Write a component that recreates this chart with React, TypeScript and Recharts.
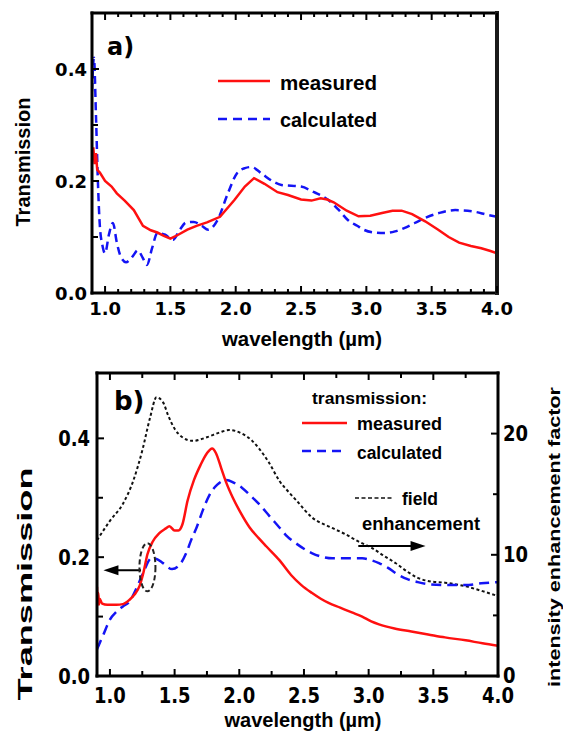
import React from 'react';
import { LineChart, Line, XAxis, YAxis, ReferenceLine, ReferenceDot } from 'recharts';

// ---- panel a) ----
const aMeasWl = [0.9, 0.91, 0.92, 0.93, 0.94, 0.96, 1.0, 1.05, 1.09, 1.15, 1.22, 1.29, 1.35, 1.4, 1.45, 1.5, 1.56, 1.63, 1.7, 1.78, 1.88, 1.99, 2.07, 2.14, 2.22, 2.32, 2.4, 2.5, 2.58, 2.65, 2.7, 2.75, 2.85, 2.94, 3.03, 3.12, 3.2, 3.27, 3.35, 3.45, 3.55, 3.63, 3.71, 3.8, 3.88, 3.95, 4.0];
const aMeasT = [0.245, 0.26, 0.23, 0.25, 0.22, 0.215, 0.2, 0.19, 0.178, 0.165, 0.148, 0.12, 0.112, 0.108, 0.102, 0.097, 0.104, 0.113, 0.12, 0.126, 0.136, 0.166, 0.19, 0.205, 0.195, 0.18, 0.175, 0.167, 0.165, 0.169, 0.167, 0.162, 0.147, 0.137, 0.138, 0.143, 0.147, 0.147, 0.141, 0.128, 0.113, 0.1, 0.09, 0.084, 0.08, 0.075, 0.071];

const aCalcWl = [0.9, 0.915, 0.93, 0.945, 0.96, 0.98, 1.0, 1.03, 1.06, 1.09, 1.12, 1.16, 1.21, 1.25, 1.29, 1.32, 1.36, 1.4, 1.46, 1.52, 1.57, 1.62, 1.68, 1.74, 1.79, 1.86, 1.94, 2.01, 2.07, 2.12, 2.2, 2.28, 2.35, 2.5, 2.6, 2.71, 2.79, 2.86, 2.93, 2.98, 3.06, 3.14, 3.22, 3.29, 3.37, 3.45, 3.56, 3.68, 3.83, 3.92, 4.0];
const aCalcT = [0.36, 0.42, 0.32, 0.2, 0.12, 0.085, 0.071, 0.105, 0.125, 0.09, 0.065, 0.055, 0.065, 0.076, 0.062, 0.05, 0.08, 0.107, 0.104, 0.095, 0.112, 0.126, 0.127, 0.12, 0.113, 0.13, 0.178, 0.214, 0.223, 0.225, 0.213, 0.2, 0.193, 0.19, 0.18, 0.166, 0.148, 0.13, 0.12, 0.113, 0.108, 0.107, 0.11, 0.116, 0.125, 0.134, 0.143, 0.148, 0.145, 0.14, 0.136];

// ---- panel b) ----
const bMeasWl = [0.9, 0.905, 0.91, 0.915, 0.92, 0.94, 0.98, 1.05, 1.1, 1.15, 1.19, 1.23, 1.26, 1.29, 1.33, 1.38, 1.43, 1.46, 1.5, 1.53, 1.56, 1.6, 1.65, 1.7, 1.75, 1.79, 1.82, 1.86, 1.9, 1.95, 2.01, 2.08, 2.15, 2.21, 2.31, 2.4, 2.48, 2.56, 2.63, 2.69, 2.78, 2.87, 2.95, 3.02, 3.08, 3.2, 3.33, 3.46, 3.59, 3.75, 3.88, 4.0];
const bMeasT = [0.15, 0.125, 0.14, 0.12, 0.13, 0.122, 0.12, 0.12, 0.121, 0.128, 0.137, 0.152, 0.175, 0.205, 0.226, 0.24, 0.248, 0.252, 0.245, 0.245, 0.255, 0.295, 0.33, 0.355, 0.375, 0.383, 0.375, 0.35, 0.325, 0.3, 0.275, 0.25, 0.232, 0.218, 0.195, 0.17, 0.153, 0.14, 0.13, 0.123, 0.115, 0.107, 0.1, 0.092, 0.087, 0.08, 0.075, 0.07, 0.065, 0.06, 0.055, 0.051];

const bCalcWl = [0.9, 0.95, 1.0, 1.05, 1.1, 1.15, 1.21, 1.26, 1.32, 1.36, 1.41, 1.48, 1.53, 1.59, 1.63, 1.67, 1.72, 1.77, 1.83, 1.9, 1.96, 2.02, 2.08, 2.15, 2.23, 2.31, 2.37, 2.44, 2.56, 2.65, 2.72, 2.85, 2.95, 3.02, 3.08, 3.15, 3.21, 3.3, 3.38, 3.48, 3.59, 3.75, 3.87, 4.0];
const bCalcT = [0.045, 0.07, 0.095, 0.108, 0.117, 0.125, 0.15, 0.175, 0.198, 0.197, 0.19, 0.18, 0.185, 0.207, 0.23, 0.25, 0.28, 0.305, 0.322, 0.33, 0.325, 0.317, 0.305, 0.29, 0.27, 0.25, 0.235, 0.223, 0.207, 0.2, 0.198, 0.198, 0.198, 0.195, 0.19, 0.182, 0.173, 0.163, 0.158, 0.154, 0.153, 0.153, 0.156, 0.158];

const bFieldWl = [0.9, 1.0, 1.1, 1.18, 1.25, 1.31, 1.36, 1.41, 1.45, 1.5, 1.56, 1.64, 1.75, 1.85, 1.92, 2.02, 2.1, 2.15, 2.23, 2.31, 2.38, 2.44, 2.56, 2.7, 2.82, 2.92, 3.02, 3.12, 3.21, 3.3, 3.38, 3.48, 3.59, 3.75, 3.88, 4.0];
const bFieldF = [11.2, 12.8, 14.2, 16.1, 18.6, 21.3, 23.0, 22.6, 21.5, 20.4, 19.7, 19.4, 19.7, 20.1, 20.3, 20.0, 19.4, 18.8, 17.6, 16.1, 15.2, 14.5, 13.1, 12.3, 11.7, 11.1, 10.6, 9.9, 9.3, 8.6, 8.1, 7.8, 7.7, 7.4, 7.0, 6.6];

// ticks
const aXTicks = [1.0, 1.1, 1.2, 1.3, 1.4, 1.5, 1.6, 1.7, 1.8, 1.9, 2.0, 2.1, 2.2, 2.3, 2.4, 2.5, 2.6, 2.7, 2.8, 2.9, 3.0, 3.1, 3.2, 3.3, 3.4, 3.5, 3.6, 3.7, 3.8, 3.9, 4.0];
const aYTicks = [0, 0.1, 0.2, 0.3, 0.4];
const aRightTicks = [0, 2, 4, 6, 8, 10, 12, 14, 16, 18, 20, 22, 24];
const bXTicks = [1.0, 1.25, 1.5, 1.75, 2.0, 2.25, 2.5, 2.75, 3.0, 3.25, 3.5, 3.75, 4.0];
const bYTicks = [0, 0.1, 0.2, 0.3, 0.4];
const bRightTicks = [0, 5, 10, 15, 20];

const zip = (xs: number[], ys: number[]) => xs.map((x, i) => ({ wl: x, v: ys[i] }));

const RED = '#ff1010';
const BLUE = '#1414f5';
const TICK_FONT = 'DejaVu Sans, sans-serif';
const TXT_FONT = 'Liberation Sans, Arial, sans-serif';

type Side = 'bottom' | 'top' | 'left' | 'right';
interface TickStyle {
  side: Side;
  every: number;
  majorLen: number;
  minorLen: number;
  labels?: boolean;
  gap?: number;
  dy?: number;
  size?: number;
  stretch?: number;
  digits?: number;
}

const isMultiple = (v: number, step: number) => Math.abs(v / step - Math.round(v / step)) < 1e-6;

// draws inward tick marks (long on major values) and labels on the major ones
const makeTick = (s: TickStyle) => (props: any) => {
  const { x, y, payload } = props;
  const v = Number(payload.value);
  const major = isMultiple(v, s.every);
  const len = major ? s.majorLen : s.minorLen;
  const dx = s.side === 'left' ? len : s.side === 'right' ? -len : 0;
  const dyl = s.side === 'bottom' ? -len : s.side === 'top' ? len : 0;
  let label = null;
  if (s.labels && major) {
    let tx = x;
    let ty = y;
    let anchor = 'middle';
    if (s.side === 'bottom') ty = y + (s.gap || 0);
    if (s.side === 'left') { tx = x - (s.gap || 0); ty = y + (s.dy || 0); anchor = 'end'; }
    if (s.side === 'right') { tx = x + (s.gap || 0); ty = y + (s.dy || 0); anchor = 'start'; }
    label = (
      <text
        transform={`translate(${tx},${ty}) scale(1,${s.stretch || 1})`}
        textAnchor={anchor}
        fontFamily={TICK_FONT}
        fontWeight="bold"
        fontSize={s.size || 18}
        fill="#000"
      >
        {v.toFixed(s.digits ?? 1)}
      </text>
    );
  }
  return (
    <g>
      <line x1={x} y1={y} x2={x + dx} y2={y + dyl} stroke="#000" strokeWidth={2} />
      {label}
    </g>
  );
};

const axisLine = { stroke: '#000', strokeWidth: 3, strokeLinecap: 'square' as const };

const LeftArrow = (p: any) => (
  <g>
    <line x1={p.x1} y1={p.y1} x2={p.x2 + 10} y2={p.y2} stroke="#000" strokeWidth={2} />
    <polygon points={`${p.x2},${p.y2} ${p.x2 + 15},${p.y2 - 5} ${p.x2 + 15},${p.y2 + 5}`} fill="#000" />
  </g>
);

const RightArrow = (p: any) => (
  <g>
    <line x1={p.x1} y1={p.y1} x2={p.x2 - 10} y2={p.y2} stroke="#000" strokeWidth={2} />
    <polygon points={`${p.x2},${p.y2} ${p.x2 - 15},${p.y2 - 5} ${p.x2 - 15},${p.y2 + 5}`} fill="#000" />
  </g>
);

const Ellipse = (p: any) => (
  <ellipse cx={p.cx} cy={p.cy} rx={8} ry={24} fill="none" stroke="#222" strokeWidth={2} strokeDasharray="5 3" />
);

const PanelA = () => (
  <LineChart width={563} height={340} margin={{ top: 12, right: 0, bottom: 0, left: 0 }}>
    <XAxis
      dataKey="wl" type="number" domain={[0.9, 4]} ticks={aXTicks} interval={0}
      height={47} tickSize={0} tickMargin={0} tickLine={false} axisLine={axisLine} allowDataOverflow
      tick={makeTick({ side: 'bottom', every: 0.5, majorLen: 7, minorLen: 4, labels: true, gap: 22, size: 18 })}
    />
    <XAxis
      xAxisId="top" orientation="top" dataKey="wl" type="number" domain={[0.9, 4]} ticks={aXTicks} interval={0}
      height={1} tickSize={0} tickMargin={0} tickLine={false} axisLine={axisLine} allowDataOverflow
      tick={makeTick({ side: 'top', every: 0.5, majorLen: 7, minorLen: 4 })}
    />
    <YAxis
      type="number" domain={[0, 0.5]} ticks={aYTicks} interval={0} width={92}
      tickSize={0} tickMargin={0} tickLine={false} axisLine={axisLine} allowDataOverflow
      tick={makeTick({ side: 'left', every: 0.2, majorLen: 7, minorLen: 6, labels: true, gap: 5, dy: 7, size: 18 })}
    />
    <YAxis
      yAxisId="r" orientation="right" type="number" domain={[0, 25]} ticks={aRightTicks} interval={0} width={66}
      tickSize={0} tickMargin={0} tickLine={false} axisLine={{ stroke: '#1a1a1a', strokeWidth: 4, strokeLinecap: 'square' }}
      tick={makeTick({ side: 'right', every: 100, majorLen: 4, minorLen: 4 })}
    />
    <Line data={zip(aCalcWl, aCalcT)} dataKey="v" type="monotone" stroke={BLUE} strokeWidth={2.5} strokeDasharray="8 5" dot={false} isAnimationActive={false} />
    <Line data={zip(aMeasWl, aMeasT)} dataKey="v" type="linear" stroke={RED} strokeWidth={2.5} dot={false} isAnimationActive={false} />
  </LineChart>
);

const PanelB = () => (
  <LineChart width={563} height={396} margin={{ top: 32, right: 0, bottom: 0, left: 0 }}>
    <XAxis
      dataKey="wl" type="number" domain={[0.9, 4]} ticks={bXTicks} interval={0}
      height={60} tickSize={0} tickMargin={0} tickLine={false} axisLine={axisLine} allowDataOverflow
      tick={makeTick({ side: 'bottom', every: 0.5, majorLen: 7, minorLen: 5, labels: true, gap: 27, size: 18, stretch: 1.2 })}
    />
    <XAxis
      xAxisId="top" orientation="top" dataKey="wl" type="number" domain={[0.9, 4]} ticks={bXTicks} interval={0}
      height={1} tickSize={0} tickMargin={0} tickLine={false} axisLine={axisLine} allowDataOverflow
      tick={makeTick({ side: 'top', every: 0.5, majorLen: 7, minorLen: 5 })}
    />
    <YAxis
      type="number" domain={[0, 0.51]} ticks={bYTicks} interval={0} width={97}
      tickSize={0} tickMargin={0} tickLine={false} axisLine={axisLine} allowDataOverflow
      tick={makeTick({ side: 'left', every: 0.2, majorLen: 7, minorLen: 6, labels: true, gap: 7, dy: 8, size: 18, stretch: 1.15 })}
    />
    <YAxis
      yAxisId="r" orientation="right" type="number" domain={[0, 25]} ticks={bRightTicks} interval={0} width={65}
      tickSize={0} tickMargin={0} tickLine={false} axisLine={axisLine} allowDataOverflow
      tick={makeTick({ side: 'right', every: 10, majorLen: 7, minorLen: 5, labels: true, gap: 5, dy: 7, size: 18, stretch: 1.15, digits: 0 })}
    />
    <Line data={zip(bFieldWl, bFieldF)} yAxisId="r" dataKey="v" type="monotone" stroke="#111" strokeWidth={2} strokeDasharray="3 2.5" dot={false} isAnimationActive={false} />
    <Line data={zip(bCalcWl, bCalcT)} dataKey="v" type="monotone" stroke={BLUE} strokeWidth={2.5} strokeDasharray="10 6" dot={false} isAnimationActive={false} />
    <Line data={zip(bMeasWl, bMeasT)} dataKey="v" type="monotone" stroke={RED} strokeWidth={2.5} dot={false} isAnimationActive={false} />
    <ReferenceDot x={1.29} y={0.183} r={0} shape={Ellipse} />
    <ReferenceLine segment={[{ x: 1.24, y: 0.178 }, { x: 0.95, y: 0.178 }]} shape={LeftArrow} />
    <ReferenceLine segment={[{ x: 2.92, y: 0.219 }, { x: 3.44, y: 0.219 }]} shape={RightArrow} />
  </LineChart>
);

const txt = { fontFamily: TXT_FONT, fontWeight: 'bold' as const, fill: '#000' };

export default function App() {
  return (
    <div style={{ position: 'absolute', left: 0, top: 0, width: 563, height: 736, background: '#fff', overflow: 'hidden' }}>
      <div style={{ position: 'absolute', left: 0, top: 0 }}>
        <PanelA />
      </div>
      <div style={{ position: 'absolute', left: 0, top: 340 }}>
        <PanelB />
      </div>
      <svg width={563} height={736} style={{ position: 'absolute', left: 0, top: 0, pointerEvents: 'none' }}>
        {/* panel a labels */}
        <text x={107} y={55} fontFamily={TICK_FONT} fontWeight="bold" fontSize={24}>a)</text>
        <line x1={218} x2={270} y1={81} y2={81} stroke={RED} strokeWidth={2.5} />
        <text x={280} y={90} {...txt} fontSize={20} textLength={97} lengthAdjust="spacingAndGlyphs">measured</text>
        <line x1={218} x2={270} y1={119} y2={119} stroke={BLUE} strokeWidth={2.5} strokeDasharray="9 6" />
        <text x={280} y={127} {...txt} fontSize={20} textLength={97} lengthAdjust="spacingAndGlyphs">calculated</text>
        <text transform="translate(30,162) rotate(-90)" textAnchor="middle" {...txt} fontSize={20} textLength={129} lengthAdjust="spacingAndGlyphs">Transmission</text>
        <text x={302} y={346} textAnchor="middle" {...txt} fontSize={20} textLength={160} lengthAdjust="spacingAndGlyphs">wavelength (µm)</text>

        {/* panel b labels */}
        <text x={114} y={410} fontFamily={TICK_FONT} fontWeight="bold" fontSize={26}>b)</text>
        <text x={312} y={404} {...txt} fontSize={17} textLength={115} lengthAdjust="spacingAndGlyphs">transmission:</text>
        <line x1={302} x2={347} y1={423} y2={423} stroke={RED} strokeWidth={2.5} />
        <text x={357} y={430} {...txt} fontSize={18} textLength={85} lengthAdjust="spacingAndGlyphs">measured</text>
        <line x1={302} x2={342} y1={451} y2={451} stroke={BLUE} strokeWidth={2.5} strokeDasharray="9 6" />
        <text x={357} y={459} {...txt} fontSize={18} textLength={85} lengthAdjust="spacingAndGlyphs">calculated</text>
        <line x1={355} x2={394} y1={498} y2={498} stroke="#111" strokeWidth={1.5} strokeDasharray="4 2.5" />
        <text x={402} y={505} {...txt} fontSize={18} textLength={36} lengthAdjust="spacingAndGlyphs">field</text>
        <text x={362} y={530} {...txt} fontSize={18} textLength={118} lengthAdjust="spacingAndGlyphs">enhancement</text>
        <text transform="translate(32,584) rotate(-90)" textAnchor="middle" {...txt} fontSize={20} textLength={233} lengthAdjust="spacingAndGlyphs">Transmission</text>
        <text transform="translate(560,537) rotate(-90)" textAnchor="middle" {...txt} fontSize={16} textLength={300} lengthAdjust="spacingAndGlyphs">intensity enhancement  factor</text>
        <text x={303} y={727} textAnchor="middle" {...txt} fontSize={21} textLength={157} lengthAdjust="spacingAndGlyphs">wavelength (µm)</text>
      </svg>
    </div>
  );
}
